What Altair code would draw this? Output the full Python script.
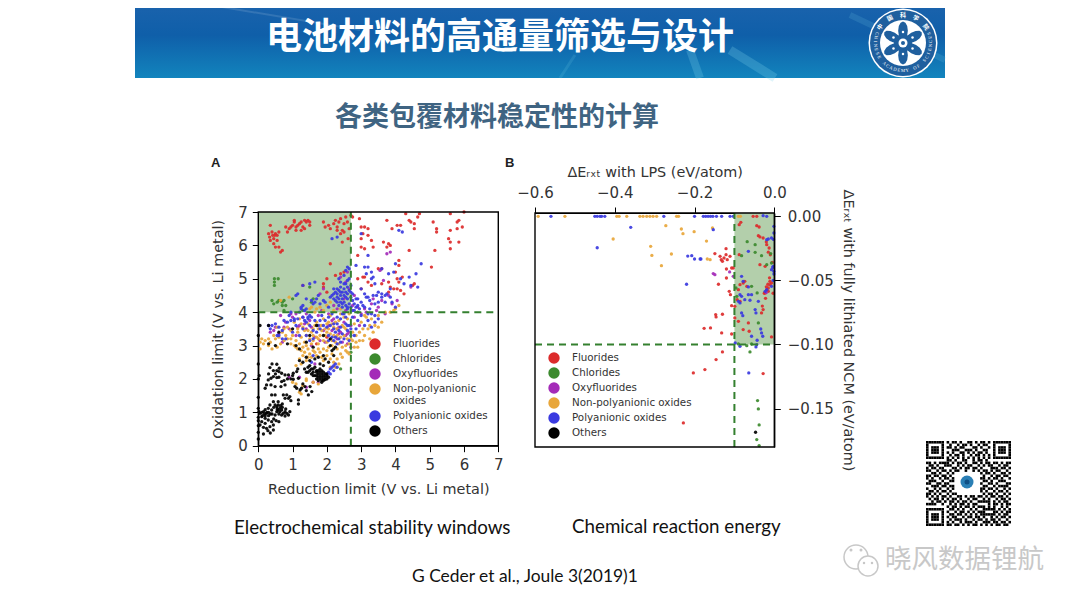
import math
import altair as alt
import pandas as pd

# ---------- Panel A values (reduction limit, oxidation limit) ----------
a_fluorides = [(0.35,6.6),(0.3,6.35),(0.33,6.25),(0.4,6.4),(0.45,6.2),(0.5,6.35),(0.55,6.3),(0.6,6.4),(0.35,6.15),(0.45,6.05),(0.5,5.95),(0.48,6.3),(0.55,6.15),(0.42,6.3),(0.6,5.95),(0.65,5.8),(0.7,5.85),
(0.85,6.4),(0.8,6.55),(0.9,6.5),(1.0,6.6),(1.05,6.7),(1.05,6.75),(1.1,6.55),(1.15,6.6),(1.2,6.65),(1.25,6.45),(1.3,6.55),(1.25,6.7),(1.35,6.5),(1.4,6.7),(1.45,6.75),(1.5,6.7),(1.5,6.6),(1.1,6.45),(0.95,6.55),(1.35,6.75),
(1.9,6.7),(1.95,6.55),(2.05,6.6),(2.1,6.5),(2.2,6.65),(2.25,6.75),(2.3,6.55),(2.35,6.7),(2.4,6.8),(2.45,6.45),(2.5,6.65),(2.55,6.85),(2.6,6.7),(2.3,6.45),(2.4,6.35),(2.5,6.4),(2.65,6.5),(2.7,6.9),(2.75,6.85),(2.45,6.1),(2.62,6.2),
(2.95,6.8),(3.0,6.55),(3.1,6.55),(3.2,6.5),(3.2,6.3),(3.0,6.2),(3.0,5.95),(3.3,6.15),(3.35,5.95),(3.1,5.9),(2.9,5.7),(3.05,6.35),
(3.75,6.75),(3.8,6.05),(3.85,6.0),(3.75,5.95),(3.65,6.1),(3.9,6.5),(4.05,6.6),(4.15,6.6),(4.3,6.95),(4.4,6.75),(4.45,6.7),(4.55,6.65),(4.65,6.85),(4.7,6.95),(4.55,6.5),(4.4,5.85),(5.1,6.7),(5.2,6.5),(5.2,6.4),(5.15,5.85),(5.05,5.35),(5.6,6.95),(5.6,6.45),(5.55,6.2),(5.6,6.1),(5.6,5.9),(5.8,6.5),(5.85,6.75),(5.8,6.7),(5.85,6.1),(5.95,6.55),(6.0,7.0),
(2.1,5.45),(2.0,5.0),(1.9,4.85),(1.9,4.75),(2.0,4.6),(2.25,5.1),(2.4,5.15),(2.5,5.2),(2.9,5.0),(3.05,5.05),(3.1,5.05),(3.2,4.9),(3.3,4.8),(3.8,4.9),(4.05,5.0),(4.1,4.9),(4.05,4.7),(4.15,4.65),(4.2,5.05),(4.1,5.55),(4.1,5.4),(3.85,4.75),(3.95,4.7),(4.5,4.8),(4.55,4.85),(4.25,4.55),(3.8,4.6),(3.6,4.85),(3.0,4.7),(3.5,5.3),(3.6,5.3),(4.0,5.2),(1.3,4.8),(1.7,3.05),(2.0,3.25),(2.3,3.5)]
a_chlorides = [(0.47,5.0),(0.58,5.0),(0.47,4.9),(0.47,4.8),(0.4,4.35),(0.45,4.25),(0.55,4.3),(0.6,4.35),(0.7,4.3),(0.75,4.35),(0.7,4.2),(0.8,4.2),(0.75,4.05),(1.0,4.4),(1.5,4.75),(1.55,4.3),(1.6,4.4),(2.7,2.8),(2.4,2.3),(1.3,4.05),(2.9,4.0)]
a_oxyfluorides = [(0.35,3.4),(0.5,3.55),(0.6,3.35),(0.7,3.1),(0.8,3.7),(0.9,3.5),(1.0,3.85),(1.1,3.3),(1.2,3.6),(1.3,3.85),(1.4,3.5),(1.5,3.75),(1.55,3.0),(1.65,2.45),(1.75,3.9),(1.85,4.05),(1.95,3.1),(2.05,3.95),(2.15,3.45),(2.2,3.8),(2.3,3.2),(2.35,3.35),(2.45,3.1),(2.5,3.7),(2.6,3.35),(2.55,4.05),(2.65,4.7),(2.6,5.2),(2.55,4.9),(2.4,5.05),(2.8,4.5),(2.9,4.15),(3.0,3.95),(3.1,4.1),(3.3,4.25),(3.5,4.15),(3.6,4.35),(3.7,3.95),(3.8,4.5),(3.9,4.25),(4.05,4.35),(3.85,5.8),(3.75,5.75),(3.55,5.25),(3.65,4.95),(1.9,4.7),(1.8,4.55),(2.2,4.2),(0.9,2.05),(1.2,2.05),(1.4,1.75),(1.6,1.9),(1.75,1.9),(0.65,3.9),(0.95,3.95),(2.7,3.6),(4.45,4.75),
(0.45,3.45),(0.75,3.55),(1.15,3.55),(1.35,3.65),(1.55,3.55),(1.65,3.25),(1.8,3.15),(1.9,3.45),(2.05,3.6),(2.15,3.75),(2.35,3.55),(2.4,3.4),(2.55,3.3),(2.65,3.4),(2.7,2.95),(2.6,3.05),(2.8,3.85),(2.95,3.6),(3.15,4.0),(3.35,4.4),(3.45,4.05),(2.75,4.2),(2.5,4.4),(2.3,4.1),(1.4,3.95),(1.1,3.95)]
a_nonpoly = [(0.05,2.9),(0.05,3.1),(0.1,3.2),(0.15,3.05),(0.2,3.15),(0.3,3.2),(0.35,3.1),(0.45,3.3),(0.5,3.2),(0.6,3.25),(0.7,3.4),(0.75,3.5),(0.85,3.55),(0.8,3.3),(0.95,3.2),(1.05,3.0),(1.1,2.95),(1.15,2.9),(1.2,3.05),(1.25,2.85),(1.3,2.95),(1.35,3.1),(1.4,3.0),(1.45,2.9),(1.5,3.2),(1.55,3.4),(1.6,3.5),(1.65,3.6),(1.7,3.7),(1.75,3.5),(1.8,3.3),(1.85,3.6),(1.9,3.8),(1.95,3.5),(2.0,3.4),(2.05,3.7),(2.1,3.9),(2.15,3.65),(2.2,3.3),(2.25,3.1),(2.3,3.5),(2.35,3.75),(2.4,3.95),(2.45,3.6),(2.5,3.3),(2.55,3.0),(2.6,2.8),(2.65,2.75),(2.7,3.2),(2.75,3.4),(2.8,3.65),(2.85,3.1),(2.9,2.95),(2.95,3.4),(3.0,3.7),(3.05,3.15),(3.1,3.9),(3.2,3.5),(3.3,3.8),(3.4,3.6),(3.5,3.9),(3.6,3.7),(3.7,4.0),(3.85,4.0),(3.95,4.05),(4.1,4.2),(4.0,4.1),(1.2,2.6),(1.3,2.7),(1.4,2.55),(1.5,2.75),(1.6,2.85),(1.7,2.7),(1.8,2.8),(1.9,2.9),(2.0,2.85),(2.1,2.6),(2.2,2.5),(2.3,2.6),(2.4,2.75),(2.45,2.95),(1.1,2.4),(1.25,2.45),(1.9,2.55),(2.1,2.35),(2.25,2.35),(1.0,1.9),(1.1,1.85),(1.25,1.55),(1.3,1.8),(1.4,1.95),(1.6,1.9),(1.75,1.85),(0.9,4.45),(0.65,4.35),(1.2,3.8),(1.3,3.55),(1.45,3.65),(1.05,3.7),(0.55,3.55),(0.95,3.45),(1.15,3.4),(1.25,3.25),(1.6,3.15),(1.75,3.05),(2.0,3.1),(2.15,3.0),(2.3,2.9),(2.5,3.55),(2.6,3.8),(2.65,3.95),(1.5,4.1),(1.65,4.0),(1.8,4.15),(2.0,4.2),(2.2,4.05),(3.1,3.3),(3.25,3.2),(3.35,3.4),(3.5,3.55),
(0.3,3.0),(0.55,2.95),(0.65,3.05),(0.4,2.9),(0.95,3.05),(1.0,3.3),(1.1,3.15),(1.15,3.5),(1.25,3.65),(1.35,3.45),(1.4,3.3),(1.45,3.45),(1.55,3.05),(1.6,3.3),(1.7,3.25),(1.75,3.2),(1.8,3.6),(1.85,3.45),(1.9,3.15),(1.95,3.3),(2.0,3.65),(2.05,3.5),(2.1,3.35),(2.15,3.15),(2.2,3.55),(2.25,3.7),(2.3,3.3),(2.35,3.05),(2.4,3.25),(2.5,3.85),(2.55,3.5),(2.6,3.2),(2.65,3.05),(2.75,3.15),(2.8,2.95),(2.85,3.3),(2.95,3.15),(3.05,3.5),(3.15,3.85),(3.25,3.6),(1.35,2.8),(1.45,2.65),(1.55,2.65),(1.65,2.8),(1.75,2.9),(1.85,2.65),(2.0,2.7),(2.05,2.95),(2.15,2.75),(2.35,2.45),(2.45,2.65),(2.55,2.85),(1.55,4.15),(1.7,4.1),(1.9,4.05),(2.1,4.3),(2.4,4.1),(0.85,3.2),(0.75,3.15),(1.4,2.0),(1.2,1.6)]
a_poly = [(0.3,3.6),(0.35,3.5),(0.4,3.6),(0.5,3.65),(0.55,3.3),(0.6,3.3),(0.7,3.2),(0.75,3.75),(0.8,3.2),(0.9,3.9),(0.95,4.0),(1.05,3.8),(1.05,3.75),(1.15,3.8),(1.2,4.0),(1.25,4.1),(1.3,4.2),(1.35,4.05),(1.25,4.15),(1.4,4.1),(1.45,3.85),(1.1,4.5),(1.15,4.55),(1.3,4.8),(1.5,4.85),(1.65,4.9),(1.4,4.4),(1.55,4.35),(1.6,4.25),(1.65,4.3),(1.7,4.4),(1.75,4.5),(1.9,4.35),(1.95,4.3),(1.8,4.25),(2.05,4.15),
(2.1,4.45),(2.15,4.5),(2.2,4.4),(2.2,4.55),(2.25,4.35),(2.25,4.6),(2.3,4.45),(2.3,4.3),(2.3,4.55),(2.35,4.4),(2.35,4.65),(2.35,4.2),(2.4,4.5),(2.4,4.3),(2.4,4.75),(2.45,4.6),(2.45,4.4),(2.45,4.15),(2.5,4.7),(2.5,4.5),(2.5,4.3),(2.55,4.85),(2.55,4.6),(2.55,4.2),(2.6,4.95),(2.6,4.75),(2.6,4.4),(2.6,4.1),(2.65,5.0),(2.65,4.65),(2.65,4.25),(2.7,4.8),(2.7,4.45),(2.7,4.15),(2.75,4.35),(2.75,4.05),(2.8,4.25),(2.85,4.4),(2.9,4.2),(2.95,4.1),(2.5,5.1),(2.55,5.25),(2.6,5.35),(2.65,5.3),(2.35,5.0),(2.4,4.9),
(2.85,5.4),(3.1,5.35),(3.2,5.35),(3.0,4.7),(3.1,4.55),(3.2,4.45),(3.3,5.0),(3.35,5.05),(3.4,4.85),(3.5,4.6),(3.6,4.55),(3.7,4.5),(3.75,4.55),(3.85,4.7),(3.95,5.2),(4.0,5.45),(3.6,5.3),(3.8,5.15),(4.15,5.0),(4.25,4.85),(4.4,5.05),(4.45,4.8),(4.6,5.15),(4.65,4.75),(4.75,5.45),(3.05,4.2),(3.15,4.45),(3.25,4.35),(3.35,4.5),(3.5,4.3),(3.7,4.3),(3.15,5.15),(4.0,4.15),(3.9,4.3),(4.2,6.4),(4.1,6.45),(2.15,6.2),(2.3,6.25),(3.2,5.7),(3.3,5.2),(3.0,6.35),(3.85,4.45),
(1.2,3.3),(1.3,3.5),(1.4,3.7),(1.5,3.6),(1.55,3.85),(1.65,3.75),(1.7,3.4),(1.8,3.75),(1.9,3.6),(2.0,3.55),(2.05,3.3),(2.1,3.6),(2.15,3.25),(2.2,3.5),(2.25,3.4),(2.3,3.65),(2.35,3.45),(2.4,3.55),(2.45,3.35),(2.5,3.2),(2.55,3.85),(2.6,3.6),(2.65,3.15),(2.7,3.3),(2.75,3.85),(2.8,3.3),(2.85,3.5),(2.9,3.75),(3.0,3.9),(3.1,3.6),(3.2,3.75),(3.3,3.55),(3.4,3.7),(3.5,3.8),(1.6,2.7),(1.55,2.5),(2.05,2.2),(2.1,2.3),(2.15,2.35),(2.2,2.4),(2.25,2.45),(2.3,2.35),(2.0,2.15),(2.1,2.15),(2.2,2.25),
(1.3,3.85),(1.35,3.75),(1.45,3.8),(1.5,3.9),(1.4,3.3),(1.5,3.15),(1.6,3.45),(1.75,3.6),(1.85,3.9),(1.95,3.75),(2.05,3.85),(2.15,3.95),(2.2,3.65),(2.3,3.85),(2.4,3.8),(2.45,3.95),(2.5,3.95),(2.55,3.65),(2.65,3.6),(2.7,3.5),(2.6,3.45),(2.35,3.2),(2.4,3.1),(2.25,3.25),(2.3,3.05),(2.2,3.15),(2.05,3.15),(2.6,4.15),(2.55,4.45),(2.45,4.25),(2.4,4.6),(2.3,4.7),(2.2,4.7),(2.5,4.85),(2.6,4.55),(2.7,4.6),(2.75,4.55),(2.8,4.05),(2.85,4.15),(2.9,4.4),(3.0,4.3),(3.1,4.15),(3.25,4.1),(3.4,4.25),(3.45,4.5),(3.6,4.45),(3.2,3.95),(3.3,3.95),(3.4,3.9),(0.6,3.55),(0.7,3.45),(0.85,3.7),(0.95,3.75),(1.1,3.6),(1.0,3.4),(1.6,3.2),(1.8,3.5)]
a_others = [(1.35,2.3),(1.4,2.2),(1.45,2.35),(1.5,2.25),(1.5,2.4),(1.55,2.15),(1.6,2.3),(1.6,2.2),(1.65,2.1),(1.65,2.35),(1.7,2.0),(1.7,2.2),(1.7,2.25),(1.75,2.05),(1.75,2.15),(1.75,1.95),(1.8,2.0),(1.8,2.1),(1.8,2.2),(1.85,1.95),(1.85,2.05),(1.85,2.15),(1.85,1.9),(1.9,2.0),(1.9,2.1),(1.9,1.95),(1.95,2.05),(1.95,2.15),(1.95,1.98),(2.0,2.0),(2.0,2.1),(2.05,2.05),(1.65,2.6),(1.5,2.55),(1.4,2.65),(1.8,2.45),(1.75,2.65),(1.9,2.4),(2.05,2.5),(2.2,2.9),(2.2,2.7),(1.9,2.7),(1.95,2.6),(2.15,2.85),
(0.34,2.34),(0.54,2.44),(0.61,2.32),(0.44,2.25),(0.54,2.25),(0.6,2.22),(0.68,2.17),(0.29,1.97),(0.37,2.02),(0.44,2.07),(0.54,2.04),(0.68,1.92),(0.78,2.12),(0.88,2.12),(1.02,2.17),(1.12,2.22),(1.02,1.99),(1.17,2.02),(0.24,1.82),(0.2,1.72),(0.37,1.82),(0.49,1.77),(0.66,1.77),(0.78,1.82),(1.12,1.72),(1.26,1.72),(1.36,1.77),(1.51,1.77),(1.56,1.62),(1.46,1.52),(1.17,1.37),(1.17,1.25),(1.22,1.67),(1.07,1.77),(0.39,1.52),(0.49,1.52),(0.58,1.32),(0.73,1.52),(0.83,1.52),(0.88,1.42),(0.78,1.42),(0.92,1.47),
(0.49,1.22),(0.54,1.17),(0.58,1.22),(0.63,1.12),(0.58,1.07),(0.54,1.02),(0.63,1.02),(0.68,1.07),(0.73,0.97),(0.68,0.92),(0.78,1.02),(0.83,0.97),(0.92,1.02),(0.88,0.92),(0.78,0.89),(0.49,0.92),(0.39,1.07),(0.29,1.12),(0.34,1.22),(0.44,1.32),(0.24,0.97),(0.15,1.02),(0.05,0.97),(0.1,0.87),(0.2,0.82),(0.29,0.77),(0.39,0.72),(0.44,0.62),(0.34,0.57),(0.24,0.52),(0.44,0.47),(0.15,0.35),(0.2,0.67),(0.1,0.72),(0.05,0.62),(0.0,0.85),(0.02,1.02),(0.0,1.12),(0.0,0.2),(0.0,0.4),(0.0,0.6),(0.0,0.75),(0.0,2.0),(0.03,2.1),(0.0,2.45),(0.0,1.45),(0.05,3.6),(0.0,3.3),(0.25,1.0),(0.2,1.08),(0.12,0.9),(0.18,0.95),(0.3,0.9),(0.35,0.95),(0.45,0.8),(0.52,0.75),(0.6,0.72),
(0.5,3.0),(0.3,3.05),(0.85,3.05),(1.1,3.0),(0.6,3.4),(1.4,3.1),(1.0,3.5),(0.3,3.6),(1.2,2.9),(1.6,2.95),(1.9,3.3),(2.1,3.2),(2.1,3.0),(1.5,3.3),(1.7,3.6),(2.25,2.95),(0.95,2.0),
(0.4,2.45),(0.3,2.15),(0.5,2.15),(0.6,2.05),(0.75,1.95),(0.85,2.0),(1.0,2.1),(1.3,1.85),(1.4,1.65),(0.95,1.35),(0.7,1.25),(0.65,1.2),(0.55,1.1),(0.45,1.15),(0.4,0.95),(0.6,0.95),(0.7,1.15),(0.8,1.1),(0.2,0.9),(0.3,1.0),(0.1,1.0),(0.15,0.55),(0.28,0.45),(0.35,0.38),(1.7,2.1),(1.75,2.25),(1.8,2.3),(1.85,2.25),(1.9,2.2),(2.0,2.15),(1.6,2.1),(1.55,2.3),(1.45,2.2),(1.3,2.5),(1.2,2.55),(1.15,2.3)]

# ---------- Panel B values (LPS energy, NCM energy) ----------
b_fluorides = [(-0.084,-0.0047),(-0.088,-0.0065),(-0.044,-0.0073),(-0.038,-0.0083),(-0.028,-0.0169),(-0.04,-0.0151),(-0.036,-0.0161),(-0.019,-0.0221),(-0.013,-0.0247),(-0.088,-0.0299),(-0.103,-0.0403),(-0.036,-0.0377),(-0.023,-0.039),(-0.078,-0.052),(-0.069,-0.0546),(-0.09,-0.0572),(-0.011,-0.0507),(-0.015,-0.0559),(-0.019,-0.0572),(-0.011,-0.0533),(-0.023,-0.0598),(-0.015,-0.0585),(-0.007,-0.052),(-0.093,-0.065),(-0.099,-0.0702),(-0.086,-0.0663),(-0.028,-0.0728),(-0.032,-0.0754),(-0.099,-0.0793),(-0.09,-0.0819),(-0.065,-0.0832),(-0.078,-0.0884),(-0.063,-0.0897),(-0.007,-0.0941),(-0.086,-0.0533),(-0.074,-0.0507),
(-0.136,-0.0312),(-0.133,-0.0338),(-0.13,-0.0351),(-0.126,-0.0325),(-0.121,-0.0299),(-0.118,-0.0338),(-0.111,-0.0312),(-0.149,-0.0291),(-0.121,-0.0252),(-0.12,-0.0411),(-0.107,-0.0403),(-0.12,-0.0481),(-0.14,-0.053),(-0.113,-0.0585),(-0.11,-0.0611),(-0.107,-0.0697),(-0.147,-0.0767),(-0.146,-0.0785),(-0.13,-0.0764),(-0.176,-0.0874),(-0.16,-0.0871),(-0.132,-0.091),(-0.107,-0.0918),(-0.13,-0.1058),(-0.146,-0.1118),(-0.203,-0.1222),(-0.174,-0.1196),(-0.028,-0.1227),(-0.228,-0.1612),(-0.053,0.0),(-0.044,0.0),
(-0.02,-0.055),(-0.016,-0.053),(-0.012,-0.048),(-0.025,-0.06),(-0.022,-0.064),(-0.03,-0.07),(-0.02,-0.02),(-0.015,-0.028),(-0.01,-0.03),(-0.005,-0.036),(-0.003,-0.06)]
b_chlorides = [(-0.068,-0.0198),(-0.082,-0.0307),(-0.032,-0.0307),(-0.048,-0.0281),(-0.009,-0.0291),(-0.007,-0.0364),(-0.048,-0.0221),(-0.094,-0.0624),(-0.096,-0.0559),(-0.019,-0.0377),(-0.043,-0.0598),(-0.057,-0.0546),(-0.040,-0.0832),(-0.069,-0.1009),(-0.09,-0.0996),(-0.057,-0.0996),(-0.061,-0.1058),(-0.042,-0.1438),(-0.04,-0.1503),(-0.038,-0.1628),(-0.044,-0.1742),(-0.038,-0.1789)]
b_oxyfluorides = [(-0.153,-0.0447),(-0.149,-0.0455),(-0.103,-0.0468),(-0.112,-0.0434),(-0.02,-0.0595)]
b_nonpoly = [(-0.592,0.0),(-0.525,0.0),(-0.395,0.0),(-0.389,0.0),(-0.37,0.0),(-0.337,0.0),(-0.329,0.0),(-0.32,0.0),(-0.312,0.0),(-0.304,0.0),(-0.295,0.0),(-0.245,0.0),(-0.24,0.0),(-0.272,-0.0073),(-0.404,-0.0177),(-0.31,-0.0234),(-0.307,-0.0305),(-0.258,-0.0294),(-0.283,-0.0385),(-0.233,-0.0099),(-0.229,-0.0135),(-0.201,-0.012),(-0.17,-0.0193),(-0.155,-0.0091),(-0.168,-0.0333),(-0.161,-0.0338),(-0.09,0.0),(-0.085,0.0)]
b_poly = [(-0.56,0.0),(-0.45,0.0),(-0.444,0.0),(-0.437,0.0),(-0.433,0.0),(-0.425,0.0),(-0.277,0.0),(-0.2,0.0),(-0.178,0.0),(-0.172,0.0),(-0.166,0.0),(-0.16,0.0),(-0.154,0.0),(-0.145,0.0),(-0.132,0.0),(-0.111,0.0),(-0.103,0.0),(-0.36,-0.0086),(-0.444,-0.0245),(-0.217,-0.031),(-0.207,-0.0307),(-0.2,-0.0333),(-0.186,-0.0333),(-0.184,-0.0333),(-0.22,-0.053),(-0.153,-0.0104),
(-0.082,-0.0468),(-0.078,-0.0507),(-0.086,-0.0611),(-0.082,-0.0624),(-0.09,-0.0663),(-0.086,-0.0676),(-0.065,-0.0611),(-0.057,-0.0611),(-0.074,-0.065),(-0.061,-0.0655),(-0.04,-0.0663),(-0.048,-0.0728),(-0.046,-0.0754),(-0.082,-0.0754),(-0.079,-0.0775),(-0.034,-0.0879),(-0.032,-0.091),(-0.029,-0.0936),(-0.057,-0.0936),(-0.043,-0.0967),(-0.065,-0.0551),(-0.001,-0.0078),(-0.007,-0.0169),(-0.015,-0.0177),(-0.019,-0.0182),(-0.003,-0.039),(-0.007,-0.0416),(-0.001,-0.0429),(-0.065,-0.0273),(-0.019,-0.0572),(-0.023,-0.0585),(-0.007,-0.0546),(-0.098,-0.0988),(-0.086,-0.1014),(-0.044,-0.1001),(-0.046,-0.1019),(-0.028,0.0005),(-0.019,0.0),(-0.064,-0.1222),
(-0.001,-0.013),(-0.002,-0.018),(-0.004,-0.04),(-0.001,-0.045),(-0.003,-0.05)]
b_others = [(-0.047,-0.1685)]

# ---------- Text ----------
main_title = "电池材料的高通量筛选与设计"
sub_title = "各类包覆材料稳定性的计算"
caption_a = "Electrochemical stability windows"
caption_b = "Chemical reaction energy"
citation = "G Ceder et al., Joule 3(2019)1"
watermark = "晓风数据锂航"
categories = ["Fluorides", "Chlorides", "Oxyfluorides", "Non-polyanionic oxides", "Polyanionic oxides", "Others"]
cat_colors = ["#dc2b2b", "#3c8a2e", "#a42bb8", "#e8a63a", "#3a3ae0", "#000000"]
axis_font = "DejaVu Sans"
GREEN = "#34802f"
FILL = "#b3cfab"

qr_rows = [
"111111101011010011010110101111111",
"100000100100101101001011001000001",
"101110101101011000110100101011101",
"101110100011100111010011001011101",
"101110101010011010101101001011101",
"100000100101101001011010101000001",
"111111101010101010101010101111111",
"000000001101001100101101000000000",
"110101111010110100110101101101011",
"011010011100101011001010110010110",
"101101100011010110110100011101101",
"110010110101100100101011010110010",
"001101001010000000000101101001101",
"110110110100000000000010010110110",
"101001011010000000000110101101001",
"011100100110000000000011010011100",
"110011011000000000000100110100011",
"001110110110000000000011001011110",
"100101001010000000000110110100101",
"011010110100000000000101001011010",
"110101001011000000000010110100101",
"101010110100110101101101011011010",
"010110101011010010110010100101101",
"001011010110101101001111101010110",
"111100100101011010110000101101011",
"000000001011010110101110101001010",
"111111100110101001010011111010101",
"100000101001011010101110001101011",
"101110100110110101010111111010110",
"101110101011001011011010010101101",
"101110100101110100101101011010010",
"100000101010010111010011101101101",
"111111101101101010110101010110110",
]

# ---------- Tables ----------
def table(series):
    rows = []
    for name, pts in zip(categories, series):
        rows += [{"x": p[0], "y": p[1], "cat": name} for p in pts]
    return pd.DataFrame(rows)

df_a = table([a_fluorides, a_chlorides, a_oxyfluorides, a_nonpoly, a_poly, a_others])
df_b = table([b_fluorides, b_chlorides, b_oxyfluorides, b_nonpoly, b_poly, b_others])

W, H = 1064, 591
ox, oy = 8, 8

ax_l, ax_r, ay_b, ay_t = 250.3, 490.3, 437.7, 204.0
bx_l, bx_r, by_b, by_t = 527.0, 766.3, 439.0, 205.0
scale_ax = alt.Scale(domain=[0, 7], range=[ax_l, ax_r], nice=False, zero=False)
scale_ay = alt.Scale(domain=[0, 7], range=[ay_b, ay_t], nice=False, zero=False)
scale_bx = alt.Scale(domain=[-0.6, 0], range=[bx_l, bx_r], nice=False, zero=False)
scale_by = alt.Scale(domain=[-0.18, 0.0026], range=[by_b, by_t], nice=False, zero=False)

def axis(title, orient, offset, values, fmt, **kw):
    return alt.Axis(title=title, orient=orient, offset=offset, values=values, format=fmt, grid=False,
                    domainColor="#000000", tickColor="#000000", tickSize=6, tickWidth=1, domainWidth=1.2,
                    labelColor="#333333", titleColor="#333333", labelFont=axis_font, titleFont=axis_font,
                    labelFontSize=15, titleFontSize=14.4, titleFontWeight="normal", labelOverlap=False,
                    labelFlush=False, **kw)

ax_x = axis("Reduction limit (V vs. Li metal)", "bottom", ay_b - H, list(range(8)), "d", labelPadding=6, titlePadding=10)
ax_y = axis("Oxidation limit (V vs. Li metal)", "left", -ax_l, list(range(8)), "d", labelPadding=5, titlePadding=12)
bx_x = axis("ΔEᵣₓₜ with LPS (eV/atom)", "top", -by_t, [-0.6, -0.4, -0.2, 0.0], ".1f", labelPadding=7, titlePadding=6)
bx_y = axis("ΔEᵣₓₜ with fully lithiated NCM (eV/atom)", "right", bx_r - W, [0.0, -0.05, -0.1, -0.15], ".2f",
            labelPadding=7, titleAngle=90, titlePadding=7)

def Xa(f): return alt.X(f, type="quantitative", scale=scale_ax, axis=ax_x)
def Ya(f): return alt.Y(f, type="quantitative", scale=scale_ay, axis=ax_y)
def Xb(f): return alt.X(f, type="quantitative", scale=scale_bx, axis=bx_x)
def Yb(f): return alt.Y(f, type="quantitative", scale=scale_by, axis=bx_y)

def panel(df, X, Y, xlim, ylim, xcut, ycut, box, legend):
    x0, x1 = xlim
    y0, y1 = ylim
    one = lambda **k: alt.Data(values=[k])
    fill = alt.Chart(one(a=box[0], b=box[1], c=box[2], d=box[3])).mark_rect(color=FILL).encode(
        x=X("a:Q"), x2="b:Q", y=Y("c:Q"), y2="d:Q")
    pts = alt.Chart(df).mark_circle(size=11, opacity=0.92).encode(
        x=X("x"), y=Y("y"),
        color=alt.Color("cat:N", scale=alt.Scale(domain=categories, range=cat_colors), legend=legend),
    )
    vline = alt.Chart(one(a=xcut, c=y0, d=y1)).mark_rule(color=GREEN, strokeWidth=2, strokeDash=[7, 5]).encode(
        x=X("a:Q"), y=Y("c:Q"), y2="d:Q")
    hline = alt.Chart(one(a=x0, b=x1, c=ycut)).mark_rule(color=GREEN, strokeWidth=2, strokeDash=[7, 5]).encode(
        x=X("a:Q"), x2="b:Q", y=Y("c:Q"))
    frame = alt.Chart(one(a=x0, b=x1, c=y0, d=y1)).mark_rect(fillOpacity=0, stroke="#000000", strokeWidth=1.4).encode(
        x=X("a:Q"), x2="b:Q", y=Y("c:Q"), y2="d:Q")
    return alt.layer(fill, pts, vline, hline, frame)

legend_common = dict(title=None, orient="none", symbolType="circle", symbolSize=130, symbolStrokeWidth=0,
                     labelFont=axis_font, labelFontSize=10.3, labelColor="#333333", labelLimit=0,
                     symbolOpacity=1, rowPadding=3, labelOffset=12, padding=0)
legend_a = alt.Legend(legendX=361, legendY=330,
                      labelExpr="datum.label == 'Non-polyanionic oxides' ? ['Non-polyanionic','oxides'] : datum.label",
                      **legend_common)
legend_b = alt.Legend(legendX=540, legendY=344, **legend_common)

panel_a = panel(df_a, Xa, Ya, (0, 7), (0, 7), 2.7, 4, (0, 2.7, 4, 7), legend_a)
panel_b = panel(df_b, Xb, Yb, (-0.6, 0), (-0.18, 0.0026), -0.1, -0.1, (-0.1, 0, -0.1, 0.0026), legend_b)

# ---------- Decoration of the slide (placed in pixels) ----------
def txt(text, x, y, size, font="Noto Sans CJK SC", weight="normal", color="#000000", align="left", angle=0, baseline="middle", opacity=1):
    return alt.Chart(alt.Data(values=[{"t": text}])).mark_text(
        font=font, fontSize=size, fontWeight=weight, color=color, align=align, angle=angle, baseline=baseline, opacity=opacity
    ).encode(text="t:N", x=alt.value(x - ox), y=alt.value(y - oy))

def box(x0, x1, y0, y1, **kw):
    return alt.Chart(alt.Data(values=[{"a": 1}])).mark_rect(**kw).encode(
        x=alt.value(x0 - ox), x2=alt.value(x1 - ox), y=alt.value(y0 - oy), y2=alt.value(y1 - oy))

def dot(x, y, d, **kw):
    kw.setdefault("shape", "circle")
    return alt.Chart(alt.Data(values=[{"a": 1}])).mark_point(size=d * d, **kw).encode(
        x=alt.value(x - ox), y=alt.value(y - oy))

def ray(x0, y0, x1, y1, w, color="#7fd4ea", op=0.25):
    return alt.Chart(alt.Data(values=[{"a": 1}])).mark_rule(strokeWidth=w, color=color, opacity=op).encode(
        x=alt.value(x0 - ox), x2=alt.value(x1 - ox), y=alt.value(y0 - oy), y2=alt.value(y1 - oy))

banner_grad = alt.LinearGradient(gradient="linear", x1=0, y1=0, x2=0, y2=1, stops=[
    alt.GradientStop(color="#1c63ad", offset=0), alt.GradientStop(color="#0f5fa9", offset=0.45),
    alt.GradientStop(color="#1284bd", offset=1)])
deco = [box(135, 945, 0, 78, color=banner_grad),
        ray(700, 78, 690, 50, 8), ray(730, 50, 775, 78, 9), ray(560, 78, 575, 55, 3, op=0.15),
        ray(850, 15, 945, 60, 6, op=0.15), ray(180, 0, 360, 30, 2, color="#ffffff", op=0.12),
        txt(main_title, 266, 38, 36, weight="bold", color="#ffffff"),
        txt(sub_title, 335, 118, 27, weight="bold", color="#3f6482")]

# logo
lx, ly, NAVY = 903, 43, "#1f5f9e"
petal_parts = []
for i in range(6):
    t = math.radians(-90 + 60 * i)
    pts_p = []
    for k in range(12):
        u = 2 * math.pi * k / 12
        r = 0.56 + 0.42 * math.cos(u)            # along the petal
        s = 0.22 * math.sin(u)                   # across the petal
        pts_p.append((r * math.cos(t) - s * math.sin(t), r * math.sin(t) + s * math.cos(t)))
    petal_parts.append("M" + "L".join(f"{a:.3f},{b:.3f}" for a, b in pts_p) + "Z")
flower = "".join(petal_parts)

deco += [dot(lx, ly, 69, filled=True, color="#ffffff", opacity=1),
         dot(lx, ly, 66, filled=True, color=NAVY, opacity=1),
         dot(lx, ly, 46, filled=True, color="#ffffff", opacity=1),
         dot(lx, ly, 44, filled=True, color=NAVY, shape=flower, opacity=1),
         dot(lx, ly, 18, filled=True, color=NAVY, opacity=1),
         dot(lx, ly, 9, filled=True, color="#ffffff", opacity=1),
         dot(lx, ly, 4, filled=True, color=NAVY, opacity=1)]
for i in range(6):
    ang = math.radians(-90 + 60 * i)
    deco.append(dot(lx + 11 * math.cos(ang), ly + 11 * math.sin(ang), 2.5, filled=True, color="#ffffff", opacity=1))
ring = "CHINESE ACADEMY OF SCIENCES"
for i, ch in enumerate(ring):
    a = math.radians(200 - i * (220 / (len(ring) - 1)))
    deco.append(txt(ch, lx + 28 * math.cos(a), ly + 28 * math.sin(a), 4.6, font="Liberation Serif", color="#ffffff",
                    align="center", angle=(math.degrees(a) - 90) % 360))
for i, ch in enumerate("中国科学院"):
    a = math.radians(-145 + i * 27.5)
    deco.append(txt(ch, lx + 28 * math.cos(a), ly + 28 * math.sin(a), 6, color="#ffffff", weight="bold",
                    align="center", angle=(math.degrees(a) + 90) % 360))

deco += [
    txt("A", 211, 163, 13, font="Liberation Sans", weight="bold", color="#222222"),
    txt("B", 505, 163, 13, font="Liberation Sans", weight="bold", color="#222222"),
    txt(caption_a, 234, 527.5, 18.75, font="Lato", color="#111111"),
    txt(caption_b, 572, 526.5, 18.75, font="Lato", color="#111111"),
    txt(citation, 412, 577, 17.4, font="Lato", color="#111111"),
    txt(watermark, 885, 560, 26.5, color="#c8c8c8"),
    dot(856, 557, 24, filled=False, color="#c8c8c8", strokeWidth=1.5, opacity=1),
    dot(868, 566, 20, filled=True, color="#ffffff", opacity=1),
    dot(868, 566, 20, filled=False, color="#c8c8c8", strokeWidth=1.5, opacity=1),
    dot(851, 550, 3, filled=True, color="#c8c8c8", opacity=1),
    dot(861, 550, 3, filled=True, color="#c8c8c8", opacity=1),
    dot(864, 563, 2.5, filled=True, color="#c8c8c8", opacity=1),
    dot(872, 563, 2.5, filled=True, color="#c8c8c8", opacity=1),
]

# QR code
qr_cells = [{"c": c, "c2": c + 1, "r": r, "r2": r + 1}
            for r, row in enumerate(qr_rows) for c, v in enumerate(row) if v == "1"]
qr = alt.Chart(alt.Data(values=qr_cells)).mark_rect(color="#000000").encode(
    x=alt.X("c:Q", scale=alt.Scale(domain=[0, 33], range=[926 - ox, 1011 - ox], nice=False, zero=False), axis=None),
    x2="c2:Q",
    y=alt.Y("r:Q", scale=alt.Scale(domain=[0, 33], range=[441 - oy, 526 - oy], nice=False, zero=False), axis=None),
    y2="r2:Q",
)
qr_logo = [dot(967, 482, 13, filled=True, color="#2a7fb5", opacity=1), dot(967, 482, 5, filled=True, color="#0f4f85", opacity=1)]

chart = alt.layer(*deco[:8], panel_a, panel_b, qr, *deco[8:], *qr_logo).resolve_scale(
    x="independent", y="independent", color="independent"
).resolve_axis(x="independent", y="independent").resolve_legend(color="independent").properties(
    width=W, height=H, padding=0, autosize=alt.AutoSizeParams(type="none"),
    background="#ffffff",
).configure_view(stroke=None)

chart.save("out.html", embed_options={"renderer": "svg", "actions": False})
